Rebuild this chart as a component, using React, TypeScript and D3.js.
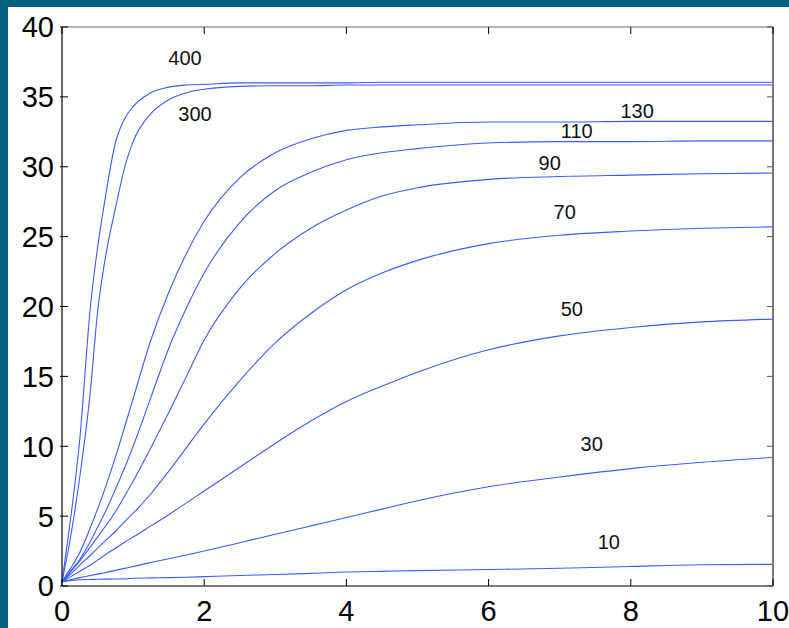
import * as d3 from "d3";

// sample times shared by all curves
const times = [0, 0.1, 0.25, 0.4, 0.5, 0.6, 0.75, 0.9, 1, 1.25, 1.5, 1.75, 2, 2.5, 3, 3.5, 4, 4.5, 5, 6, 7, 8, 9, 10];

const curveNames = ["10", "30", "50", "70", "90", "110", "130", "300", "400"];

const y10 = [0.3, 0.38, 0.45, 0.47, 0.48, 0.49, 0.5, 0.52, 0.55, 0.58, 0.6, 0.63, 0.67, 0.75, 0.82, 0.9, 1.0, 1.05, 1.1, 1.18, 1.27, 1.4, 1.52, 1.55];
const y30 = [0.3, 0.42, 0.6, 0.75, 0.85, 0.95, 1.12, 1.28, 1.4, 1.68, 1.95, 2.22, 2.5, 3.1, 3.7, 4.3, 4.9, 5.5, 6.1, 7.1, 7.8, 8.4, 8.85, 9.2];
const y50 = [0.3, 0.6, 1.05, 1.5, 1.85, 2.2, 2.7, 3.2, 3.5, 4.3, 5.1, 5.95, 6.8, 8.5, 10.2, 11.8, 13.2, 14.3, 15.3, 16.9, 17.9, 18.5, 18.9, 19.1];
const y70 = [0.3, 0.75, 1.5, 2.2, 2.7, 3.2, 3.9, 4.7, 5.2, 6.6, 8.2, 9.9, 11.6, 14.7, 17.4, 19.5, 21.2, 22.4, 23.3, 24.5, 25.1, 25.4, 25.6, 25.7];
const y90 = [0.3, 0.9, 1.8, 2.8, 3.5, 4.2, 5.3, 6.6, 7.5, 9.9, 12.4, 15.0, 17.6, 21.3, 23.8, 25.6, 26.9, 27.9, 28.5, 29.1, 29.3, 29.4, 29.5, 29.55];
const y110 = [0.3, 0.95, 1.9, 3.2, 4.2, 5.2, 6.9, 8.7, 10.0, 13.5, 17.0, 19.9, 22.4, 26.0, 28.3, 29.6, 30.5, 31.0, 31.3, 31.7, 31.8, 31.8, 31.85, 31.85];
const y130 = [0.3, 1.1, 2.4, 4.2, 5.5, 6.9, 9.2, 11.7, 13.4, 17.6, 21.0, 23.8, 26.1, 29.2, 31.0, 32.0, 32.6, 32.85, 33.0, 33.2, 33.2, 33.25, 33.25, 33.25];
const y300 = [0.3, 2.9, 7.8, 14.0, 19.6, 23.2, 27.0, 30.3, 31.8, 33.8, 34.8, 35.3, 35.55, 35.75, 35.8, 35.8, 35.85, 35.85, 35.85, 35.85, 35.85, 35.85, 35.85, 35.85];
const y400 = [0.3, 4.0, 10.5, 20.0, 24.2, 27.5, 31.7, 33.6, 34.3, 35.3, 35.7, 35.85, 35.9, 36.0, 36.0, 36.0, 36.0, 36.05, 36.05, 36.05, 36.05, 36.05, 36.05, 36.05];

const series = [y10, y30, y50, y70, y90, y110, y130, y300, y400];

// where each curve's label sits, in data units
const labelX = [7.69, 7.45, 7.17, 7.07, 6.86, 7.24, 8.09, 1.87, 1.73];
const labelY = [3.17, 10.2, 19.8, 26.8, 30.3, 32.6, 34.0, 33.81, 37.78];

const xTicks = [0, 2, 4, 6, 8, 10];
const yTicks = [0, 5, 10, 15, 20, 25, 30, 35, 40];

const W = 789;
const H = 628;
const left = 62;
const right = 773;
const top = 27;
const bottom = 586;
const font = "'Liberation Sans', Arial, sans-serif";

export default function App() {
  const x = d3.scaleLinear().domain([0, 10]).range([left, right]);
  const y = d3.scaleLinear().domain([0, 40]).range([bottom, top]);

  const line = d3
    .line<number>()
    .x((_, i) => x(times[i]))
    .y((d) => y(d))
    .curve(d3.curveMonotoneX);

  return (
    <svg width={W} height={H} style={{ position: "absolute", left: 0, top: 0 }}>
      <rect x={0} y={0} width={W} height={H} fill="#04627e" />
      <rect x={8} y={7} width={W - 8} height={H - 7} fill="#ffffff" />

      {/* curves */}
      {series.map((s, i) => (
        <path key={curveNames[i]} d={line(s) || ""} fill="none" stroke="#3b5bff" strokeWidth={1.1} />
      ))}

      {/* curve labels */}
      {curveNames.map((n, i) => (
        <text
          key={"l" + n}
          x={x(labelX[i])}
          y={y(labelY[i])}
          dy="0.36em"
          textAnchor="middle"
          fontFamily={font}
          fontSize={20}
          fill="#111"
        >
          {n}
        </text>
      ))}

      {/* box */}
      <line x1={left} x2={right} y1={top} y2={top} stroke="#666" strokeWidth={1} />
      <line x1={right} x2={right} y1={top} y2={bottom} stroke="#777" strokeWidth={2} />
      <line x1={left} x2={left} y1={top} y2={bottom} stroke="#000" strokeWidth={1.2} />
      <line x1={left} x2={right} y1={bottom} y2={bottom} stroke="#000" strokeWidth={1.2} />

      {/* ticks */}
      {yTicks.map((t) => (
        <g key={"y" + t}>
          <line x1={left - 2} x2={left + 6} y1={y(t)} y2={y(t)} stroke="#000" strokeWidth={1} />
          <line x1={right - 6} x2={right} y1={y(t)} y2={y(t)} stroke="#555" strokeWidth={1} />
          <text x={54} y={y(t)} dy="0.36em" textAnchor="end" fontFamily={font} fontSize={29} fill="#000">
            {t}
          </text>
        </g>
      ))}
      {xTicks.map((t) => (
        <g key={"x" + t}>
          <line x1={x(t)} x2={x(t)} y1={bottom} y2={bottom - 7} stroke="#000" strokeWidth={1} />
          <line x1={x(t)} x2={x(t)} y1={top} y2={top + 7} stroke="#000" strokeWidth={1} />
          <text x={x(t)} y={621} textAnchor="middle" fontFamily={font} fontSize={29} fill="#000">
            {t}
          </text>
        </g>
      ))}
    </svg>
  );
}
